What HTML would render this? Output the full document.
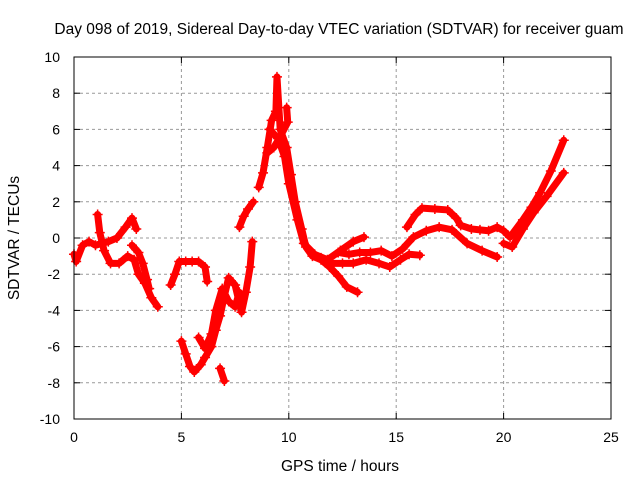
<!DOCTYPE html>
<html><head><meta charset="utf-8"><style>
body{margin:0;background:#fff;}
svg text{font-family:"Liberation Sans",sans-serif;font-size:14px;fill:#000;}
svg text.big{font-size:15.5px;}
</style></head><body>
<svg id="chart" width="640" height="480" xmlns="http://www.w3.org/2000/svg">
<rect width="640" height="480" fill="#fff"/>
<text class="big" x="339" y="34" text-anchor="middle">Day 098 of 2019, Sidereal Day-to-day VTEC variation (SDTVAR) for receiver guam</text>
<text class="big" x="340" y="471" text-anchor="middle">GPS time / hours</text>
<text class="big" transform="translate(19,238) rotate(-90)" text-anchor="middle">SDTVAR / TECUs</text>
<g id="grid"></g><g id="ticks"></g><g id="marks"></g>
<rect x="74" y="57" width="537" height="362" fill="none" stroke="#000" stroke-width="1"/>
</svg>
<script>
const xTicks=[0,5,10,15,20,25];
const yTicks=[-10,-8,-6,-4,-2,0,2,4,6,8,10];
const trackA=[[0,-0.9],[0.1,-1.3],[0.4,-0.4],[0.7,-0.2],[1.0,-0.4],[1.3,-0.3],[1.6,-0.2],[2.0,0],[2.4,0.6],[2.7,1.1],[2.9,0.5]];
const trackA2=[[1.1,1.3],[1.2,0.3],[1.4,-0.7],[1.7,-1.4],[2.1,-1.4],[2.5,-1.0],[2.8,-1.2],[3.0,-2.0],[3.3,-2.5],[3.6,-3.3],[3.9,-3.8]];
const trackA3=[[2.7,-0.4],[3.0,-0.8],[3.2,-1.4],[3.4,-2.3],[3.5,-2.8]];
const trackB=[[4.5,-2.6],[4.7,-2.0],[4.9,-1.3],[5.2,-1.3],[5.5,-1.3],[5.8,-1.3],[6.1,-1.6],[6.2,-2.4]];
const trackC=[[5.0,-5.7],[5.2,-6.4],[5.4,-7.1],[5.6,-7.4],[5.9,-7.0],[6.1,-6.6],[6.4,-6.0],[6.6,-5.1],[6.8,-4.3],[7.0,-3.2],[7.2,-2.2],[7.5,-2.6],[7.8,-4.1],[8.0,-3.0],[8.2,-1.6],[8.3,-0.2]];
const trackD=[[5.8,-5.5],[6.1,-6.1],[6.4,-5.3],[6.6,-4.0],[6.9,-2.8],[7.2,-3.5],[7.5,-3.8],[7.7,-3.0]];
const trackD2=[[6.8,-7.2],[7.0,-7.9]];
const trackE=[[7.7,0.6],[7.9,1.2],[8.1,1.6],[8.35,2.0]];
const trackF=[[8.6,2.8],[8.8,3.6],[9.0,5.0],[9.2,6.5],[9.4,7.0],[9.45,8.9],[9.6,6.0],[9.9,5.0],[10.1,3.5],[10.3,2.0],[10.6,0.5],[10.8,-0.5],[11.1,-1.0],[11.5,-1.2],[11.9,-1.6],[12.3,-2.1],[12.7,-2.7],[13.2,-3.0]];
const trackG=[[9.1,6.0],[9.5,5.5],[9.8,4.5],[10.0,3.0],[10.4,1.0],[10.7,-0.3],[11.2,-0.9],[11.8,-1.2],[12.4,-0.7],[13.0,-0.2],[13.5,0.05]];
const trackG2=[[9.9,7.2],[9.95,6.4],[9.6,5.6],[9.3,5.0],[9.0,4.7]];
const trackH=[[11.5,-1.1],[12.0,-1.4],[12.5,-1.4],[13.0,-1.4],[13.6,-1.2],[14.2,-1.4],[14.7,-1.6],[15.2,-1.2],[15.6,-0.9],[16.1,-0.95]];
const trackI=[[12.3,-0.8],[12.8,-0.9],[13.3,-0.8],[13.8,-0.8],[14.3,-0.7],[14.8,-1.0],[15.3,-0.6],[15.8,0.05],[16.4,0.4],[17.0,0.6],[17.6,0.45],[18.3,-0.3],[19.0,-0.7],[19.7,-1.05]];
const trackJ=[[15.5,0.6],[15.9,1.3],[16.2,1.65],[16.8,1.6],[17.4,1.55],[17.8,1.1],[18.0,0.7],[18.5,0.5],[18.9,0.45],[19.3,0.4],[19.7,0.6],[20.0,0.4],[20.3,0.05],[20.9,1.0],[21.3,1.7],[21.7,2.5],[22.2,3.7],[22.8,5.4]];
const trackK=[[20.0,-0.3],[20.4,-0.5],[20.9,0.5],[21.4,1.4],[22.0,2.3],[22.8,3.6]];
const tracks=[trackA,trackA2,trackA3,trackB,trackC,trackD,trackD2,trackE,trackF,trackG,trackG2,trackH,trackI,trackJ,trackK];
const X0=74,X1=611,Y0=419,Y1=57;
function sx(h){return X0+(h-0)/(25-0)*(X1-X0);}
function sy(v){return Y0-(v+10)/20*(Y0-Y1);}
const NS="http://www.w3.org/2000/svg";
function mk(t,a,p){const e=document.createElementNS(NS,t);for(const k in a)e.setAttribute(k,a[k]);p.appendChild(e);return e;}
const grid=document.getElementById('grid'),ticks=document.getElementById('ticks'),marks=document.getElementById('marks');
xTicks.forEach(t=>{const x=sx(t);
 if(t>0&&t<25){const g=mk('line',{x1:x,x2:x,y1:Y1,y2:Y0,stroke:'#999','stroke-dasharray':'3,3'},grid);
 
 }
 mk('line',{x1:x,x2:x,y1:Y0,y2:Y0-6,stroke:'#000'},ticks);mk('line',{x1:x,x2:x,y1:Y1,y2:Y1+6,stroke:'#000'},ticks);
 const l=mk('text',{x:x,y:Y0+23,'text-anchor':'middle'},ticks);l.textContent=t;
 
 });
yTicks.forEach(t=>{const y=sy(t);
 if(t>-10&&t<10){const g=mk('line',{x1:X0,x2:X1,y1:y,y2:y,stroke:'#999','stroke-dasharray':'3,3'},grid);
 
 }
 mk('line',{x1:X0,x2:X0+6,y1:y,y2:y,stroke:'#000'},ticks);mk('line',{x1:X1,x2:X1-6,y1:y,y2:y,stroke:'#000'},ticks);
 const l=mk('text',{x:X0-14,y:y+5,'text-anchor':'end'},ticks);l.textContent=t;
 
 });
tracks.forEach((tr,i)=>{
 const pl=mk('polyline',{points:tr.map(p=>sx(p[0])+','+sy(p[1])).join(' '),fill:'none',stroke:'#f00','stroke-width':7,'stroke-linejoin':'round','stroke-linecap':'round'},marks);
 
 
 tr.forEach(p=>{const x=sx(p[0]),y=sy(p[1]);
  const m=mk('path',{d:`M${x-5},${y}H${x+5}M${x},${y-5}V${y+5}`,stroke:'#f00','stroke-width':1.5},marks);
  
  });
});
</script>
</body></html>
